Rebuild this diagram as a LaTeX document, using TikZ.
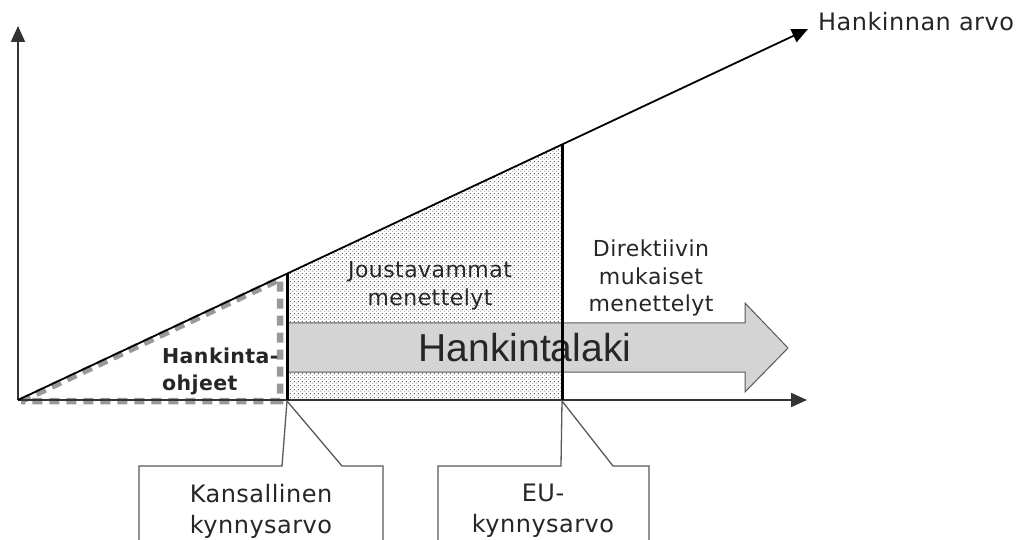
\documentclass[tikz,border=0pt]{standalone}
\usepackage{fontspec}
\usetikzlibrary{arrows.meta,patterns}
\newfontfamily\vf[LetterSpace=2]{DejaVu Sans}
\newfontfamily\af{Liberation Sans}
\pgfdeclarepatternformonly{finedots}{\pgfpointorigin}{\pgfpoint{4pt}{4pt}}{\pgfpoint{4pt}{4pt}}{%
  \pgfpathrectangle{\pgfpoint{0.4pt}{0.4pt}}{\pgfpoint{1.1pt}{1.1pt}}%
  \pgfpathrectangle{\pgfpoint{2.4pt}{2.4pt}}{\pgfpoint{1.1pt}{1.1pt}}%
  \pgfusepath{fill}}
\begin{document}
\begin{tikzpicture}[x=1pt,y=-1pt,
  axis/.style={draw=black!80, line width=2pt, -{Triangle[length=16pt,width=14pt]}},
  thick line/.style={draw=black, line width=3pt},
  hdash/.style={draw=black!40, line width=6.5pt, dash pattern=on 10pt off 7pt},
  callout/.style={draw=black!65, line width=1.3pt, fill=white},
  lbl/.style={inner sep=0pt, align=center, text=black!85},
  arrowbox/.style={draw=black!65, line width=1pt, fill=black!17}]
\useasboundingbox (0,0) rectangle (1021,540);
\clip (0,0) rectangle (1021,540);
% coordinates
\coordinate (O) at (18,400);
\coordinate (Ytop) at (18,26);
\coordinate (Xend) at (807,400);
\coordinate (Dend) at (808,29);
\coordinate (K) at (287,400);
\coordinate (Kt) at (287,273.7);
\coordinate (E) at (562,400);
\coordinate (Et) at (562,144.5);
% dotted region
\fill[pattern=finedots, pattern color=black!60] (K) -- (Kt) -- (Et) -- (E) -- cycle;
% dashed triangle
\draw[hdash] (21,401) -- (280,279) -- (280,401) -- cycle;
% big arrow
\draw[arrowbox] (287,323) -- (745,323) -- (745,303) -- (788,348) -- (745,392) -- (745,372) -- (287,372);
\node[lbl, font=\af\fontsize{39}{44}\selectfont] (hl) at (525,348) {Hankintalaki};
% axes
\draw[axis] (O) -- (Ytop);
\draw[axis] (O) -- (Xend);
\draw[draw=black, line width=1.8pt, -{Triangle[length=16pt,width=14pt]}] (O) -- (Dend);
% thresholds
\draw[thick line] (K) -- (Kt);
\draw[thick line] (E) -- (Et);
% labels
\node[lbl, anchor=west, font=\vf\fontsize{24}{28}\selectfont] (arvo) at (818,22) {Hankinnan arvo};
\node[lbl, font=\vf\fontsize{22}{28}\selectfont] (jm) at (430,286) {Joustavammat\\menettelyt};
\node[lbl, font=\vf\fontsize{22}{27.5}\selectfont] (dm) at (651,278) {Direktiivin\\mukaiset\\menettelyt};
\node[lbl, anchor=west, align=left, font=\vf\bfseries\fontsize{20.5}{27}\selectfont] (ho) at (162,371) {Hankinta-\\ohjeet};
% callouts
\draw[callout] (139,560) -- (139,466) -- (282,466) -- (287,401) -- (342,466) -- (383,466) -- (383,560) -- cycle;
\draw[callout] (438,560) -- (438,466) -- (561,466) -- (562,401) -- (613,466) -- (649,466) -- (649,560) -- cycle;
\node[lbl, font=\vf\fontsize{24}{31}\selectfont] (kk) at (261,511) {Kansallinen\\kynnysarvo};
\node[lbl, font=\vf\fontsize{24}{31}\selectfont] (ek) at (543,511) {EU-\\kynnysarvo};
\end{tikzpicture}
\end{document}
